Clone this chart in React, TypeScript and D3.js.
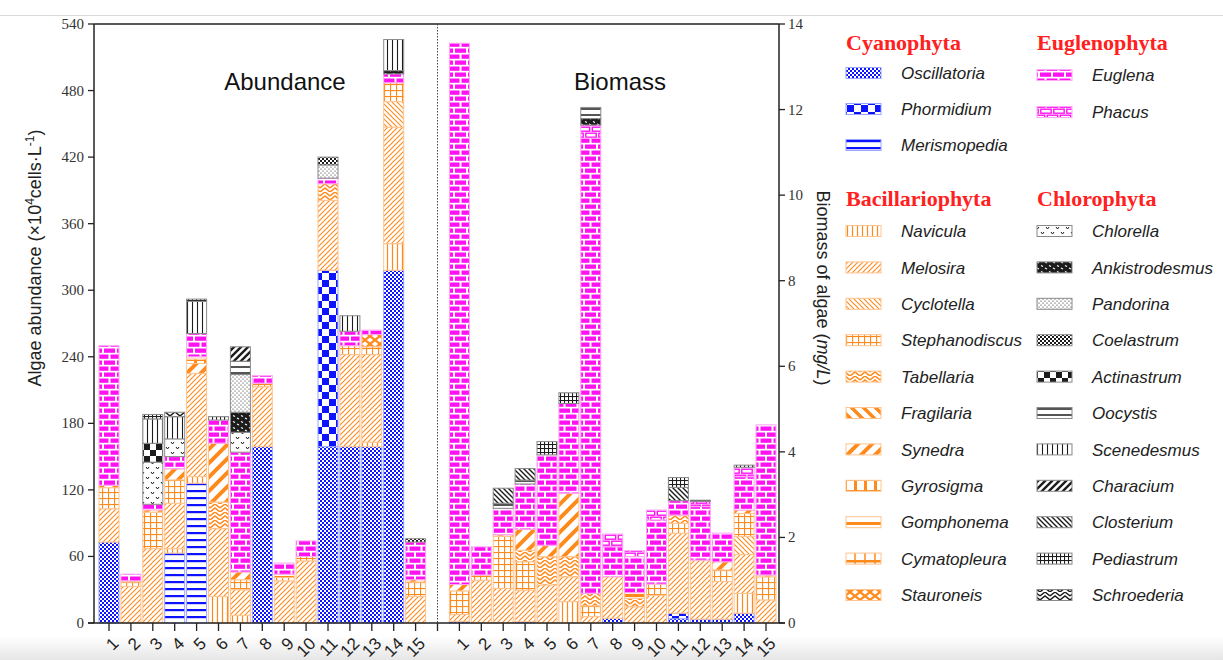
import React from 'react';
import * as d3 from 'd3';

// ---------------- DATA ----------------
const sites = ['1', '2', '3', '4', '5', '6', '7', '8', '9', '10', '11', '12', '13', '14', '15'];
const groups = ['Cyanophyta', 'Bacillariophyta', 'Euglenophyta', 'Chlorophyta'];
const species = [
  'Oscillatoria', 'Phormidium', 'Merismopedia',
  'Navicula', 'Melosira', 'Cyclotella', 'Stephanodiscus', 'Tabellaria', 'Fragilaria', 'Synedra',
  'Gyrosigma', 'Gomphonema', 'Cymatopleura', 'Stauroneis',
  'Euglena', 'Phacus',
  'Chlorella', 'Ankistrodesmus', 'Pandorina', 'Coelastrum', 'Actinastrum', 'Oocystis',
  'Scenedesmus', 'Characium', 'Closterium', 'Pediastrum', 'Schroederia',
];
const speciesGroup = [0, 0, 0, 1, 1, 1, 1, 1, 1, 1, 1, 1, 1, 1, 2, 2, 3, 3, 3, 3, 3, 3, 3, 3, 3, 3, 3];
const abundanceTicks = [0, 60, 120, 180, 240, 300, 360, 420, 480, 540];
const biomassTicks = [0, 2, 4, 6, 8, 10, 12, 14];

// abundance (×10^4 cells/L), one row per species, 15 sites
const abundanceValues = [
  [73, 0, 0, 0, 0, 0, 0, 159, 0, 0, 159, 159, 159, 318, 0],
  [0, 0, 0, 0, 0, 0, 0, 0, 0, 0, 159, 0, 0, 0, 0],
  [0, 0, 0, 63, 126, 0, 0, 0, 0, 0, 0, 0, 0, 0, 0],
  [0, 0, 0, 4, 6, 24, 7, 0, 0, 0, 0, 0, 4, 24, 0],
  [30, 33, 67, 41, 93, 61, 23, 54, 38, 56, 63, 83, 79, 105, 24],
  [0, 0, 0, 0, 0, 0, 0, 0, 0, 0, 0, 0, 0, 23, 0],
  [19, 4, 33, 21, 0, 0, 9, 3, 3, 4, 0, 8, 7, 17, 13],
  [0, 0, 0, 0, 0, 24, 0, 0, 0, 0, 15, 0, 0, 0, 0],
  [0, 0, 0, 0, 0, 0, 0, 0, 0, 0, 0, 0, 0, 0, 0],
  [2, 1, 2, 10, 9, 53, 7, 0, 0, 0, 0, 0, 0, 0, 2],
  [0, 0, 0, 0, 4, 0, 0, 0, 0, 0, 0, 0, 0, 0, 0],
  [0, 0, 0, 0, 2, 0, 0, 0, 3, 0, 0, 0, 0, 0, 0],
  [0, 0, 0, 0, 0, 0, 0, 0, 0, 0, 0, 0, 0, 0, 0],
  [0, 0, 0, 0, 0, 0, 0, 0, 0, 0, 0, 0, 11, 0, 0],
  [126, 6, 5, 11, 21, 21, 108, 7, 10, 14, 5, 13, 4, 8, 34],
  [0, 0, 0, 0, 0, 0, 0, 0, 0, 0, 0, 0, 0, 0, 0],
  [0, 0, 38, 16, 0, 0, 18, 0, 0, 0, 0, 0, 0, 0, 0],
  [0, 0, 0, 0, 0, 0, 18, 0, 0, 0, 0, 0, 0, 3, 0],
  [0, 0, 0, 0, 0, 0, 34, 0, 0, 0, 12, 0, 0, 0, 0],
  [0, 0, 0, 0, 0, 0, 0, 0, 0, 0, 7, 0, 0, 0, 3],
  [0, 0, 17, 0, 0, 0, 0, 0, 0, 0, 0, 0, 0, 0, 0],
  [0, 0, 0, 0, 0, 0, 12, 0, 0, 0, 0, 0, 0, 0, 0],
  [0, 0, 22, 20, 29, 0, 0, 0, 0, 0, 0, 14, 0, 28, 0],
  [0, 0, 0, 0, 0, 0, 13, 0, 0, 0, 0, 0, 0, 0, 0],
  [0, 0, 0, 0, 0, 0, 0, 0, 0, 0, 0, 0, 0, 0, 0],
  [0, 0, 4, 0, 2, 3, 0, 0, 0, 0, 0, 0, 0, 0, 0],
  [0, 0, 0, 4, 0, 0, 0, 0, 0, 0, 0, 0, 0, 0, 0],
];

// biomass (mg/L), one row per species, 15 sites
const biomassValues = [
  [0.04, 0, 0, 0.03, 0, 0, 0, 0.11, 0, 0, 0.1, 0.09, 0.09, 0.23, 0],
  [0, 0, 0, 0, 0, 0, 0, 0, 0, 0, 0.13, 0, 0, 0, 0],
  [0, 0, 0, 0, 0, 0, 0, 0, 0, 0, 0, 0, 0, 0, 0],
  [0, 0, 0, 0, 0, 0.5, 0, 0, 0, 0, 0, 0, 0, 0.46, 0],
  [0.16, 1.0, 0.81, 0.74, 0.89, 0.58, 0.15, 0.97, 0.38, 0.65, 1.87, 1.38, 0.88, 0.91, 0.54],
  [0, 0, 0, 0, 0, 0, 0, 0, 0, 0, 0, 0, 0, 0.42, 0],
  [0.55, 0.12, 1.21, 0.66, 0, 0, 0.25, 0, 0, 0.26, 0.23, 0, 0.27, 0.54, 0.54],
  [0, 0, 0, 0.27, 0.66, 0.47, 0.29, 0, 0.2, 0, 0.19, 0, 0, 0, 0],
  [0, 0, 0, 0, 0, 0, 0, 0, 0, 0, 0, 0, 0, 0, 0],
  [0.15, 0, 0.04, 0.49, 0.26, 1.48, 0, 0, 0, 0, 0, 0, 0.19, 0.08, 0.04],
  [0, 0, 0, 0, 0, 0, 0, 0, 0, 0, 0, 0, 0, 0, 0],
  [0, 0, 0, 0, 0, 0, 0, 0, 0.13, 0, 0, 0, 0, 0, 0],
  [0, 0, 0, 0, 0, 0, 0, 0, 0, 0, 0, 0, 0, 0, 0],
  [0, 0, 0, 0, 0, 0, 0, 0, 0, 0, 0, 0, 0, 0, 0],
  [12.65, 0.66, 0.62, 1.06, 2.12, 2.1, 10.64, 0.7, 0.84, 1.5, 0.34, 1.25, 0.67, 0.78, 3.51],
  [0, 0, 0, 0, 0, 0, 0.31, 0.3, 0.14, 0.23, 0, 0.12, 0, 0.22, 0],
  [0, 0, 0, 0, 0, 0, 0, 0, 0, 0, 0, 0, 0, 0, 0],
  [0, 0, 0, 0, 0, 0, 0.15, 0, 0, 0, 0, 0, 0, 0, 0],
  [0, 0, 0, 0, 0, 0, 0, 0, 0, 0, 0, 0, 0, 0, 0],
  [0, 0, 0, 0, 0, 0, 0, 0, 0, 0, 0, 0, 0, 0, 0],
  [0, 0, 0, 0, 0, 0, 0, 0, 0, 0, 0, 0, 0, 0, 0],
  [0, 0, 0.12, 0.09, 0, 0, 0.26, 0, 0, 0, 0, 0, 0, 0, 0],
  [0, 0, 0, 0, 0, 0, 0, 0, 0, 0, 0, 0, 0, 0, 0],
  [0, 0, 0, 0, 0, 0, 0, 0, 0, 0, 0, 0, 0, 0, 0],
  [0, 0, 0.35, 0.27, 0, 0, 0, 0, 0, 0, 0.31, 0, 0, 0, 0],
  [0, 0, 0, 0, 0.31, 0.25, 0, 0, 0, 0, 0.23, 0.03, 0, 0.05, 0],
  [0, 0, 0, 0, 0, 0, 0, 0, 0, 0, 0, 0, 0, 0, 0],
];

// ---------------- STYLE ----------------
const BLUE = '#0d12ff';
const ORANGE = '#ff8a1c';
const MAGENTA = '#ff12f2';
const BLACK = '#1c1c1c';
const groupStroke = ['#98a4ff', '#ffc48e', '#ffa6f6', '#8a8a8a'];
const SANS = '"Liberation Sans", Arial, Helvetica, sans-serif';
const SERIF = '"Liberation Serif", "Times New Roman", serif';

function P({ id, w, h, bg = '#fff', children }: any) {
  return (
    <pattern id={id} patternUnits="userSpaceOnUse" width={w} height={h}>
      <rect width={w} height={h} fill={bg} />
      {children}
    </pattern>
  );
}

function Patterns() {
  const diagUp = (c: string, s: number, sw: number) => (
    <path d={`M${-s / 2},${s / 2} L${s / 2},${-s / 2} M0,${s} L${s},0 M${s / 2},${s * 1.5} L${s * 1.5},${s / 2}`} stroke={c} strokeWidth={sw} />
  );
  const diagDown = (c: string, s: number, sw: number) => (
    <path d={`M${-s / 2},${s / 2} L${s / 2},${s * 1.5} M0,0 L${s},${s} M${s / 2},${-s / 2} L${s * 1.5},${s / 2}`} stroke={c} strokeWidth={sw} />
  );
  return (
    <defs>
      {/* Cyanophyta */}
      <P id="p0" w={4} h={4} bg="#fff">
        <rect x={0} y={0} width={2} height={2} fill={BLUE} />
        <rect x={2} y={2} width={2} height={2} fill={BLUE} />
      </P>
      <P id="p1" w={14} h={14} bg="#fff">
        <rect x={0} y={0} width={7} height={7} fill={BLUE} />
        <rect x={7} y={7} width={7} height={7} fill={BLUE} />
      </P>
      <P id="p2" w={6} h={7} bg="#fff">
        <rect x={0} y={0} width={6} height={2.2} fill={BLUE} />
      </P>
      {/* Bacillariophyta */}
      <P id="p3" w={5} h={5}>
        <line x1={2.5} y1={0} x2={2.5} y2={5} stroke={ORANGE} strokeWidth={1.2} />
      </P>
      <P id="p4" w={5} h={5}>{diagUp(ORANGE, 5, 1.1)}</P>
      <P id="p5" w={5} h={5}>{diagDown(ORANGE, 5, 1.1)}</P>
      <P id="p6" w={6} h={6}>
        <line x1={0.5} y1={0} x2={0.5} y2={6} stroke={ORANGE} strokeWidth={1.2} />
        <line x1={0} y1={0.5} x2={6} y2={0.5} stroke={ORANGE} strokeWidth={1.2} />
      </P>
      <P id="p7" w={10} h={8}>
        <path d="M0,4 L5,0 L10,4 M0,8 L5,4 L10,8" stroke={ORANGE} strokeWidth={1.6} fill="none" />
      </P>
      <P id="p8" w={12} h={12}>{diagDown(ORANGE, 12, 3.5)}</P>
      <P id="p9" w={14} h={14}>{diagUp(ORANGE, 14, 4)}</P>
      <P id="p10" w={10} h={10}>
        <rect x={4} y={0} width={3} height={10} fill={ORANGE} />
        <line x1={0} y1={0.5} x2={10} y2={0.5} stroke={ORANGE} strokeWidth={1} />
      </P>
      <P id="p11" w={10} h={9}>
        <rect x={0} y={0} width={10} height={3} fill={ORANGE} />
      </P>
      <P id="p12" w={10} h={10}>
        <rect x={0} y={0} width={10} height={2.5} fill={ORANGE} />
        <line x1={5} y1={0} x2={5} y2={10} stroke={ORANGE} strokeWidth={1.5} />
      </P>
      <P id="p13" w={10} h={8}>
        <path d="M0,0 L10,8 M10,0 L0,8" stroke={ORANGE} strokeWidth={2.2} />
      </P>
      {/* Euglenophyta */}
      <P id="p14" w={13} h={12} bg="#fff">
        <rect x={0} y={0.5} width={11} height={4.3} fill={MAGENTA} />
        <rect x={6.5} y={6.5} width={11} height={4.3} fill={MAGENTA} />
        <rect x={-6.5} y={6.5} width={11} height={4.3} fill={MAGENTA} />
      </P>
      <P id="p15" w={13} h={12} bg="#fff">
        <rect x={0.8} y={1.2} width={10.4} height={4} fill="#fff" stroke={MAGENTA} strokeWidth={1.4} />
        <rect x={7.3} y={7.2} width={10.4} height={4} fill="#fff" stroke={MAGENTA} strokeWidth={1.4} />
        <rect x={-5.7} y={7.2} width={10.4} height={4} fill="#fff" stroke={MAGENTA} strokeWidth={1.4} />
      </P>
      {/* Chlorophyta */}
      <P id="p16" w={10} h={10}>
        <path d="M1,2 L2.5,4 L4,2 M6,7 L7.5,9 L9,7" stroke={BLACK} strokeWidth={1} fill="none" />
      </P>
      <P id="p17" w={8} h={6} bg={BLACK}>
        <path d="M1,1.5 L3,2.5 M5,4 L7,5" stroke="#fff" strokeWidth={1.1} />
      </P>
      <P id="p18" w={4} h={4}>
        <circle cx={1} cy={1} r={0.6} fill={BLACK} />
        <circle cx={3} cy={3} r={0.6} fill={BLACK} />
      </P>
      <P id="p19" w={4} h={4}>
        <rect x={0} y={0} width={2} height={2} fill={BLACK} />
        <rect x={2} y={2} width={2} height={2} fill={BLACK} />
      </P>
      <P id="p20" w={12} h={12}>
        <rect x={0} y={0} width={6} height={6} fill={BLACK} />
        <rect x={6} y={6} width={6} height={6} fill={BLACK} />
      </P>
      <P id="p21" w={6} h={6}>
        <rect x={0} y={0} width={6} height={2} fill="#555" />
      </P>
      <P id="p22" w={5} h={5}>
        <line x1={2.5} y1={0} x2={2.5} y2={5} stroke={BLACK} strokeWidth={1.1} />
      </P>
      <P id="p23" w={7} h={7}>{diagUp(BLACK, 7, 2.4)}</P>
      <P id="p24" w={5} h={5}>{diagDown(BLACK, 5, 1.4)}</P>
      <P id="p25" w={4} h={4}>
        <line x1={0.5} y1={0} x2={0.5} y2={4} stroke={BLACK} strokeWidth={1.1} />
        <line x1={0} y1={0.5} x2={4} y2={0.5} stroke={BLACK} strokeWidth={1.1} />
      </P>
      <P id="p26" w={10} h={8}>
        <path d="M0,4 L5,0 L10,4 M0,8 L5,4 L10,8" stroke={BLACK} strokeWidth={1.4} fill="none" />
      </P>
      <linearGradient id="bottomShade" x1="0" y1="0" x2="0" y2="1">
        <stop offset="0" stopColor="#ffffff" />
        <stop offset="1" stopColor="#e6e6e6" />
      </linearGradient>
    </defs>
  );
}

export default function App() {
  const W = 1223;
  const H = 660;
  const top = 24;
  const bottom = 623;
  const left = 94;
  const right = 779;
  const barW = 20;

  const slots = [...sites.map((s) => 'a' + s), 'div', ...sites.map((s) => 'b' + s)];
  const x = d3.scalePoint<string>().domain(slots).range([109, 766]);
  const yA = d3.scaleLinear().domain([0, 540]).range([bottom, top]);
  const yB = d3.scaleLinear().domain([0, 14]).range([bottom, top]);

  const makeRows = (vals: number[][]) =>
    sites.map((s, j) => {
      const r: any = { site: s };
      species.forEach((sp, i) => (r[sp] = vals[i][j]));
      return r;
    });
  const stackGen = d3.stack<any>().keys(species);
  const stackA = stackGen(makeRows(abundanceValues));
  const stackB = stackGen(makeRows(biomassValues));

  const renderBars = (stack: any[], y: d3.ScaleLinear<number, number>, prefix: string) =>
    stack.map((layer, i) =>
      layer.map((d: any, j: number) => {
        if (d[1] - d[0] <= 0) return null;
        const y0 = y(d[0]);
        const y1 = y(d[1]);
        return (
          <rect
            key={`${prefix}-${i}-${j}`}
            x={(x(prefix + sites[j]) as number) - barW / 2}
            y={y1}
            width={barW}
            height={Math.max(0.8, y0 - y1)}
            fill={`url(#p${i})`}
            stroke={groupStroke[speciesGroup[i]]}
            strokeWidth={1}
          />
        );
      })
    );

  // legend layout
  const colX = [846, 1037];
  const headerPos: [number, number, number][] = [
    [0, 0, 50],
    [1, 0, 206],
    [2, 1, 50],
    [3, 1, 206],
  ];
  const legendItems: { i: number; col: number; cy: number }[] = [];
  const groupCounters = [0, 0, 0, 0];
  species.forEach((sp, i) => {
    const g = speciesGroup[i];
    const k = groupCounters[g]++;
    let cy = 0;
    let col = 0;
    if (g === 0) { col = 0; cy = 73 + 36 * k; }
    if (g === 2) { col = 1; cy = 75 + 37 * k; }
    if (g === 1) { col = 0; cy = 231 + 36.4 * k; }
    if (g === 3) { col = 1; cy = 231 + 36.4 * k; }
    legendItems.push({ i, col, cy });
  });

  return (
    <svg width={W} height={H} style={{ position: 'absolute', left: 0, top: 0, background: '#fff' }}>
      <Patterns />
      <rect x={0} y={0} width={W} height={H} fill="#fff" />
      <rect x={0} y={636} width={W} height={24} fill="url(#bottomShade)" />
      <line x1={0} x2={W} y1={15.5} y2={15.5} stroke="#d9d9d9" strokeWidth={1} />

      {/* bars */}
      {renderBars(stackA as any, yA, 'a')}
      {renderBars(stackB as any, yB, 'b')}

      {/* frame */}
      <line x1={left} x2={right} y1={top} y2={top} stroke="#222" strokeWidth={1.5} />
      <line x1={left} x2={left} y1={top} y2={bottom} stroke="#222" strokeWidth={1.5} />
      <line x1={right} x2={right} y1={top} y2={bottom} stroke="#222" strokeWidth={1.5} />
      <line x1={left - 6} x2={right + 6} y1={bottom} y2={bottom} stroke="#222" strokeWidth={1.5} />
      <line x1={x('div')} x2={x('div')} y1={top} y2={bottom} stroke="#444" strokeWidth={1} strokeDasharray="1.5,1.5" />

      {/* left axis */}
      {abundanceTicks.map((t) => (
        <g key={'la' + t}>
          <line x1={left - 6} x2={left} y1={yA(t)} y2={yA(t)} stroke="#222" strokeWidth={1.3} />
          <text x={left - 10} y={yA(t)} dy="0.33em" textAnchor="end" fontFamily={SERIF} fontSize={15} fill="#333">{t}</text>
        </g>
      ))}
      {/* right axis */}
      {biomassTicks.map((t) => (
        <g key={'rb' + t}>
          <line x1={right} x2={right + 6} y1={yB(t)} y2={yB(t)} stroke="#222" strokeWidth={1.3} />
          <text x={right + 9} y={yB(t)} dy="0.33em" textAnchor="start" fontFamily={SERIF} fontSize={15} fill="#333">{t}</text>
        </g>
      ))}

      {/* x ticks and labels */}
      {slots.map((s) => (
        <line key={'xt' + s} x1={x(s)} x2={x(s)} y1={bottom} y2={bottom + 8} stroke="#222" strokeWidth={1.3} />
      ))}
      {slots.filter((s) => s !== 'div').map((s) => (
        <text
          key={'xl' + s}
          transform={`translate(${(x(s) as number) + 2},${bottom + 13}) rotate(-45)`}
          textAnchor="end"
          dy="0.72em"
          fontFamily={SANS}
          fontSize={17}
          fill="#222"
        >
          {s.slice(1)}
        </text>
      ))}

      {/* axis titles */}
      <text transform="translate(41,258) rotate(-90)" textAnchor="middle" fontFamily={SANS} fontSize={18} fill="#222">
        Algae abundance (×10<tspan dy={-7} fontSize={12}>4</tspan><tspan dy={7}>cells·L</tspan><tspan dy={-7} fontSize={12}>-1</tspan><tspan dy={7}>)</tspan>
      </text>
      <text transform="translate(817,288) rotate(90)" textAnchor="middle" fontFamily={SANS} fontSize={18} fill="#222">
        Biomass of algae  (<tspan fontStyle="italic">mg/L</tspan>)
      </text>

      {/* panel labels */}
      <text x={285} y={90} textAnchor="middle" fontFamily={SANS} fontSize={24} fill="#111">Abundance</text>
      <text x={620} y={90} textAnchor="middle" fontFamily={SANS} fontSize={24} fill="#111">Biomass</text>

      {/* legend */}
      {headerPos.map(([g, col, y]) => (
        <text key={'h' + g} x={colX[col]} y={y} fontFamily={SERIF} fontWeight="bold" fontSize={22} fill="#ff2020">{groups[g]}</text>
      ))}
      {legendItems.map(({ i, col, cy }) => (
        <g key={'li' + i}>
          <rect x={colX[col]} y={cy - 5.5} width={35} height={11} fill={`url(#p${i})`} stroke={groupStroke[speciesGroup[i]]} strokeWidth={1} />
          <text x={colX[col] + 55} y={cy} dy="0.36em" fontFamily={SANS} fontStyle="italic" fontSize={17} fill="#222">{species[i]}</text>
        </g>
      ))}
    </svg>
  );
}
